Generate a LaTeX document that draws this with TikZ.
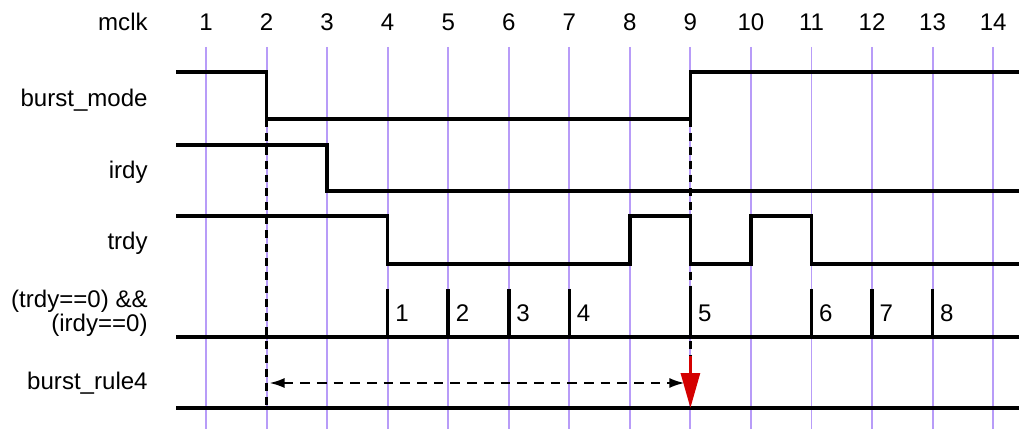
\documentclass[tikz,border=0pt]{standalone}
\usepackage{fontspec}
\setmainfont{Liberation Sans}
\usetikzlibrary{arrows.meta}

\definecolor{clkviolet}{RGB}{184,156,248}
\definecolor{markred}{RGB}{212,0,0}

\tikzset{
  clkline/.style={clkviolet, line width=1.1pt},
  sigline/.style={black, line width=2pt},
  edgemark/.style={black, line width=2pt, dash pattern=on 4.5pt off 3.4pt},
  siglabel/.style={anchor=east, inner sep=0pt, font=\fontsize{13.7}{12.5}\selectfont},
  clklabel/.style={inner sep=0pt, font=\fontsize{13.7}{15}\selectfont},
  cntlabel/.style={right, font=\fontsize{13.7}{15}\selectfont},
}

\begin{document}
\begin{tikzpicture}[x=0.02cm, y=-0.02cm, >=Latex]
			\useasboundingbox (0,0) rectangle (1019,429);

			% Clock grid
			\node[siglabel] (mclk) at (148,22) {mclk};
			\foreach \n in {1,...,14} {
				\pgfmathsetmacro\xc{206+(\n-1)*60.55}
				\coordinate (t\n) at (\xc,47);
				\draw[clkline] (t\n) -- (\xc,429);
				\node[clklabel] (c\n) at (\xc,22) {\n};
			}

			% Signal names
			\node[siglabel] (bm) at (148,100) {burst\_mode};
			\node[siglabel] (ir) at (148,172) {irdy};
			\node[siglabel] (tr) at (148,243) {trdy};
			\node[siglabel, align=right] (both) at (148,313) {(trdy==0) \&\&\\(irdy==0)};
			\node[siglabel] (rule) at (148,383) {burst\_rule4};

			% Waveforms
			\draw[sigline] (176,72) -| (t2 |- 0,119) -| (t9 |- 0,72) -- (1019,72);
			\draw[sigline] (176,145) -| (t3 |- 0,191) -- (1019,191);
			\draw[sigline] (176,216) -| (t4 |- 0,264) -| (t8 |- 0,216) -| (t9 |- 0,264)
				-| (t10 |- 0,216) -| (t11 |- 0,264) -- (1019,264);
			\draw[sigline] (176,337) -- (1019,337);
			\draw[sigline] (176,408) -- (1019,408);

			% Pulses
			\foreach \n/\k in {4/1,5/2,6/3,7/4,9/5,11/6,12/7,13/8}
				\draw[sigline] (t\n |- 0,289) -- (t\n |- 0,337) node[cntlabel, midway] (p\k) {\k};

			% Edge markers
			\draw[edgemark] (t2 |- 0,119) -- (t2 |- 0,408);
			\draw[edgemark] (t9 |- 0,119) -- (t9 |- 0,355);

			% Rule window
			\coordinate (winL) at (t2 |- 0,383);
			\coordinate (winR) at (t9 |- 0,383);
			\draw[line width=1.1pt, dash pattern=on 5.5pt off 4pt,
				{Latex[length=0.3cm,width=0.2cm]}-{Latex[length=0.3cm,width=0.2cm]},
				shorten <=0.06cm, shorten >=0.12cm] (winL) -- (winR);
			\draw[markred, line width=1.7pt, -{Triangle[length=0.7cm,width=0.38cm]}]
				(t9 |- 0,356) -- (t9 |- 0,408);
		\end{tikzpicture}
\end{document}
